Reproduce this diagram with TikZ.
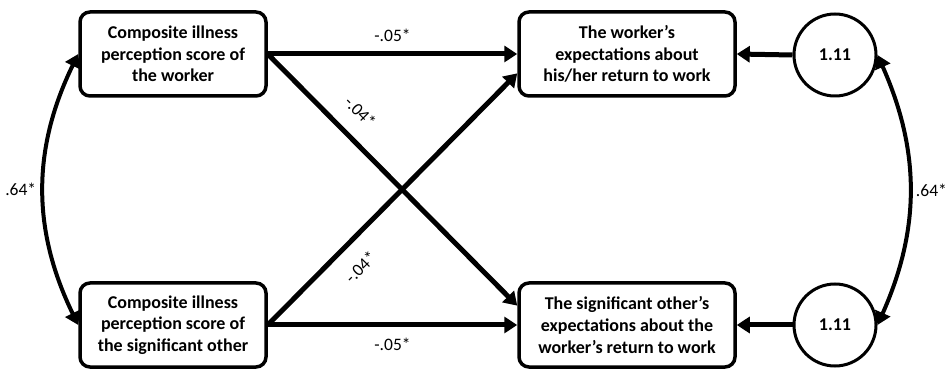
\documentclass[tikz,border=0pt]{standalone}
\usepackage{fontspec}
\setmainfont{Carlito}
\usetikzlibrary{arrows.meta}

\tikzset{
	varbox/.style = {draw, line width = 3.5pt, rounded corners = 10pt, align = center,
		minimum width = 186pt, minimum height = 84pt, inner sep = 0pt,
		font = \fontsize{18}{21.7}\selectfont\bfseries},
	errcircle/.style = {draw, circle, line width = 3pt, minimum size = 82pt, inner sep = 0pt,
		font = \fontsize{18}{21.7}\selectfont\bfseries},
	coef/.style = {font = \fontsize{17.5}{21}\selectfont}
}

\begin{document}
\begin{tikzpicture}[x = 1pt, y = 1pt, > = {Triangle[length = 13pt, width = 16pt]}]

	\useasboundingbox (0, 0) rectangle (949, 369);

	% Boxes

	\node [varbox] (ipw) at (173, 315) {Composite illness\\perception score of\\the worker};
	\node [varbox] (ips) at (173, 44) {Composite illness\\perception score of\\the significant other};
	\node [varbox, minimum width = 216pt] (exw) at (627, 315) {The worker’s\\expectations about\\his/her return to work};
	\node [varbox, minimum width = 216pt] (exs) at (627, 44) {The significant other’s\\expectations about the\\worker’s return to work};

	% Residuals

	\node [errcircle] (ew) at (835, 314) {1.11};
	\node [errcircle] (es) at (835, 44) {1.11};

	% Paths

	\draw [->, line width = 5pt] (ipw.east) -- (exw.west) node [coef, midway, above = 7pt] {-.05*};
	\draw [->, line width = 5pt] (ips.east) -- (exs.west) node [coef, midway, below = 7pt] {-.05*};
	\draw [->, line width = 5pt] (ipw.east) -- (exs.170) node [coef, pos = 0.3, sloped, above = 13pt] {-.04*};
	\draw [->, line width = 5pt] (ips.east) -- (exw.190) node [coef, pos = 0.3, sloped, below = 13pt] {-.04*};
	\draw [->, line width = 5pt] (ew.west) -- (exw.east);
	\draw [->, line width = 5pt] (es.west) -- (exs.east);

	% Covariances

	\draw [<->, line width = 4pt] (ipw.west) to [bend right = 26] node [coef, left = 2pt] {.64*} (ips.west);
	\draw [<->, line width = 4pt] (ew.east) to [bend left = 24] node [coef, right = 1pt] {.64*} (es.east);

\end{tikzpicture}
\end{document}
